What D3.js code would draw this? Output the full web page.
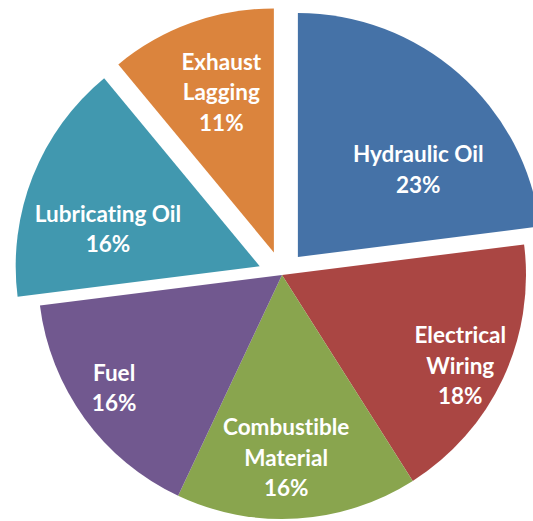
<!DOCTYPE html>
<html>
<head>
<meta charset="utf-8">
<script src="https://cdn.jsdelivr.net/npm/d3@7"></script>
<style>
  html, body { margin: 0; padding: 0; background: #ffffff; }
  svg { display: block; }
  .slice-label {
    font-family: Lato, "Open Sans", sans-serif;
    font-weight: 700;
    fill: #ffffff;
    font-variant-ligatures: none;
    font-feature-settings: "liga" 0, "clig" 0;
  }
</style>
</head>
<body>
<svg id="chart" width="533" height="521"></svg>
<script>
// Fire sources by share of incidents (percent)
const categories = ["Hydraulic Oil", "Electrical Wiring", "Combustible Material", "Fuel", "Lubricating Oil", "Exhaust Lagging"];
const shares = [23, 18, 16, 16, 16, 11];
const labelLines = [["Hydraulic Oil"], ["Electrical", "Wiring"], ["Combustible", "Material"], ["Fuel"], ["Lubricating Oil"], ["Exhaust", "Lagging"]];
const pulledOut = [true, false, false, false, true, true];
const sliceColors = ["#4572A7", "#AA4643", "#89A54E", "#71588F", "#4198AF", "#DB843D"];

// Layout
const width = 533, height = 521;
const cx = 282, cy = 275;
const radius = 244;
const explodeDist = 24;
const fontSize = 22.5, lineHeight = 30.5, capHeight = 16;
// label anchor per slice: fraction of radius and angle nudge (deg) from the slice bisector
const labelPlacement = [
  { r: 0.61, da: 12.6 },
  { r: 0.82, da: 1.8 },
  { r: 0.75, da: 2.3 },
  { r: 0.83, da: 2.0 },
  { r: 0.64, da: -7.9 },
  { r: 0.69, da: 1.6 }
];

const svg = d3.select("#chart");
const root = svg.append("g").attr("transform", `translate(${cx},${cy})`);

const pie = d3.pie().sort(null).value(d => d).startAngle(0).endAngle(2 * Math.PI);
const arcs = pie(shares);
const arc = d3.arc().innerRadius(0).outerRadius(radius);

const slices = root.selectAll("g.slice")
  .data(arcs)
  .join("g")
  .attr("class", "slice")
  .attr("transform", (d, i) => {
    if (!pulledOut[i]) return null;
    const mid = (d.startAngle + d.endAngle) / 2;
    return `translate(${Math.sin(mid) * explodeDist},${-Math.cos(mid) * explodeDist})`;
  });

slices.append("path")
  .attr("d", arc)
  .attr("fill", (d, i) => sliceColors[i]);

slices.each(function (d, i) {
  const g = d3.select(this);
  const p = labelPlacement[i];
  const mid = (d.startAngle + d.endAngle) / 2 + p.da * Math.PI / 180;
  const lx = Math.sin(mid) * radius * p.r;
  const ly = -Math.cos(mid) * radius * p.r;
  const lines = labelLines[i].concat([d3.format(".0f")(d.data) + "%"]);
  const n = lines.length;
  const firstBaseline = ly - ((n - 1) * lineHeight - capHeight) / 2;
  const text = g.append("text")
    .attr("class", "slice-label")
    .attr("text-anchor", "middle")
    .attr("font-size", fontSize);
  lines.forEach((t, k) => {
    text.append("tspan")
      .attr("x", lx)
      .attr("y", firstBaseline + k * lineHeight)
      .text(t);
  });
});
</script>
</body>
</html>
